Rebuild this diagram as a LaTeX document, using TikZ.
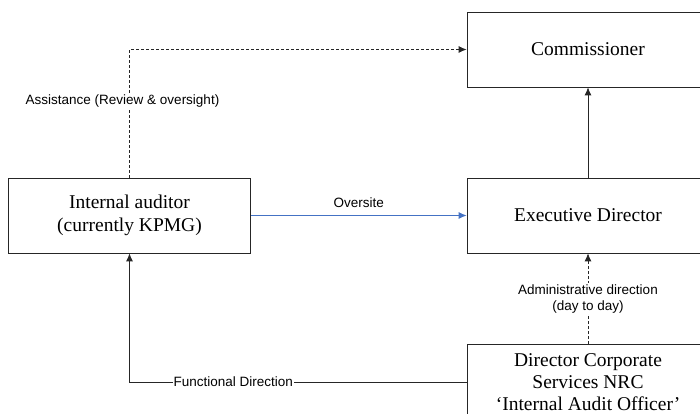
\documentclass[tikz,border=0pt]{standalone}
\usepackage{fontspec}
\setmainfont{Liberation Serif}
\setsansfont{Liberation Sans}
\usetikzlibrary{arrows.meta}

\begin{document}
\begin{tikzpicture}[x=1pt,y=1pt,
  box/.style={draw=black!85, line width=0.8pt, minimum width=242pt, minimum height=75pt, inner sep=0pt, align=center, font=\fontsize{19.5}{23}\selectfont},
  lbl/.style={font=\sffamily\fontsize{13.5}{16}\selectfont, align=center, fill=white, inner sep=1pt},
  link/.style={draw=black!85, line width=0.8pt, -{Latex[length=8pt,width=7pt]}}]
\useasboundingbox (0,0) rectangle (700,414);
\clip (0,0) rectangle (700,414);
\node[box] (com) at (588,364.5) {Commissioner};
\node[box] (exe) at (588,198.5) {Executive Director};
\node[box] (aud) at (129.5,198.5) {Internal auditor\\(currently KPMG)};
\node[box, font=\fontsize{19.5}{22}\selectfont] (dcs) at (588,32) {Director Corporate\\Services NRC\\`Internal Audit Officer'};
\draw[link, dashed, dash pattern=on 3pt off 2pt] (aud.north) |- (com.west)
  node[lbl, pos=0.30, xshift=-7pt] {Assistance (Review \& oversight)};
\draw[link, draw={rgb,255:red,68;green,114;blue,196}] (aud.east) -- (exe.west)
  node[lbl, above=6pt, pos=0.5, fill=none] {Oversite};
\draw[link] (exe.north) -- (com.south);
\draw[link, dashed, dash pattern=on 3pt off 2pt] (dcs.north) -- (exe.south)
  node[lbl, midway] {Administrative direction\\(day to day)};
\draw[link] (dcs.west) -| (aud.south)
  node[lbl, pos=0.346] {Functional Direction};
\end{tikzpicture}
\end{document}
